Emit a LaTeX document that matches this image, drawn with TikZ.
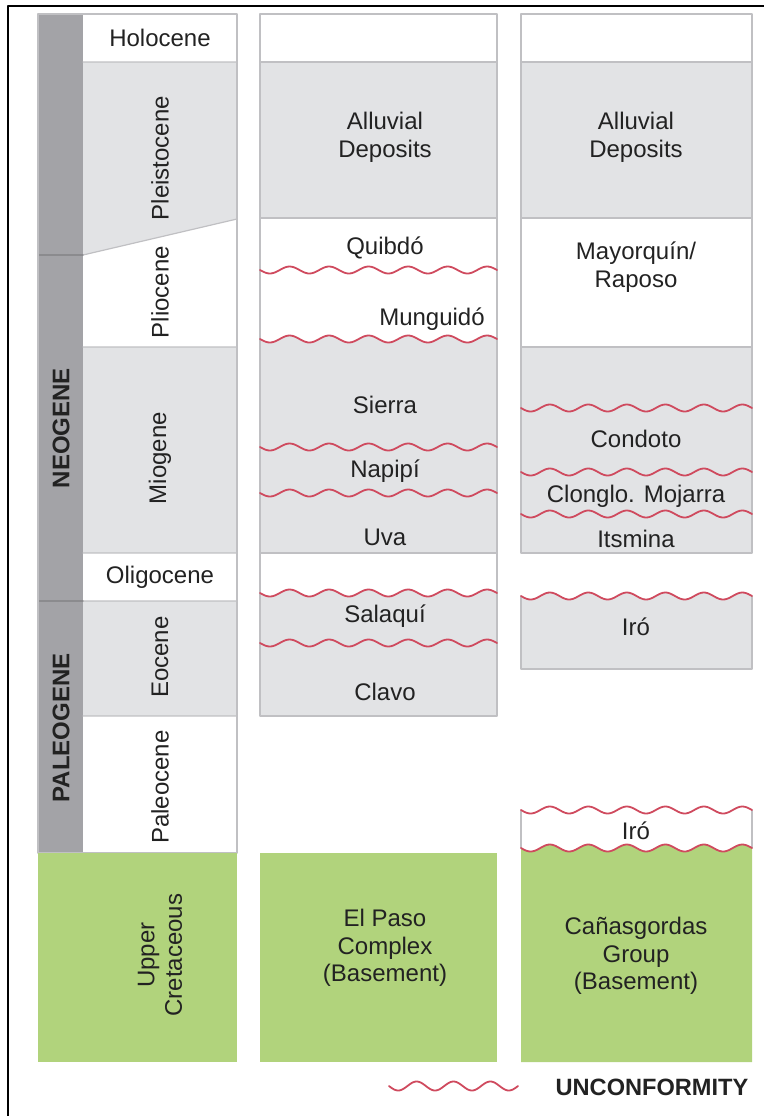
\documentclass[tikz,border=0pt]{standalone}
\usepackage{fontspec}
\setmainfont{Liberation Sans}
\definecolor{bargray}{HTML}{A3A3A7}
\definecolor{cellgray}{HTML}{E2E3E5}
\definecolor{edgegray}{HTML}{C0C0C3}
\definecolor{basegreen}{HTML}{B1D37C}
\definecolor{wavered}{HTML}{CF4A5E}
\definecolor{inkgray}{HTML}{222222}
\tikzset{
  cell/.style={fill=cellgray},
  edge/.style={draw=edgegray, line width=0.6pt},
  unconf/.style={draw=wavered, line width=0.9pt},
  lbl/.style={text=inkgray, align=center, inner sep=0pt, font=\fontsize{12}{13.8}\selectfont},
  era/.style={text=inkgray, inner sep=0pt, rotate=90, font=\fontsize{12}{14}\selectfont\bfseries},
}
% wavy unconformity: x1, x2, y, number of waves, amplitude
\newcommand{\wave}[5]{plot[domain=#1:#2, samples=120, smooth] (\x,{#3+#5*sin((\x-#1)/(#2-#1)*360*#4)})}
\begin{document}
\begin{tikzpicture}[x=0.5pt, y=-0.5pt, line join=round, line cap=round]
\useasboundingbox (0,0) rectangle (764,1116);
\draw[line width=1pt] (8,1116) -- (8,6) -- (764,6);

% time scale
\fill[bargray] (38,14) rectangle (83,853);
\fill[cell] (83,62) -- (237,62) -- (237,219) -- (83,255) -- cycle;
\fill[cell] (83,347) rectangle (237,553);
\fill[cell] (83,601) rectangle (237,716);
\draw[edge] (83,62) -- (237,62) (83,255) -- (237,219) (83,347) -- (237,347)
  (83,553) -- (237,553) (83,601) -- (237,601) (83,716) -- (237,716);
\draw[draw=bargray!85!black, line width=0.6pt] (38,255) -- (83,255) (38,601) -- (83,601);
\draw[edge] (38,14) rectangle (237,853);
\fill[basegreen] (38,853) rectangle (237,1062);

\node[era] (neogene) at (61,428) {NEOGENE};
\node[era] (paleogene) at (61,728) {PALEOGENE};
\node[lbl] (holocene) at (160,38) {Holocene};
\node[lbl, rotate=90] (pleistocene) at (160,158) {Pleistocene};
\node[lbl, rotate=90] (pliocene) at (160,292) {Pliocene};
\node[lbl, rotate=90] (miogene) at (160,458) {Miogene};
\node[lbl] (oligocene) at (160,577) {Oligocene};
\node[lbl, rotate=90] (eocene) at (160,657) {Eocene};
\node[lbl, rotate=90] (paleocene) at (160,787) {Paleocene};
\node[lbl, rotate=90] (cretaceous) at (160,955) {Upper\\Cretaceous};

% first section
\fill[cell] (260,62) rectangle (497,218);
\fill[cell] \wave{260}{497}{339}{6}{3.5} -- (497,553) -- (260,553) -- cycle;
\fill[cell] \wave{260}{497}{593}{6}{3.5} -- (497,716) -- (260,716) -- cycle;
\draw[edge] (260,14) rectangle (497,716);
\draw[edge] (260,62) -- (497,62) (260,218) -- (497,218) (260,553) -- (497,553);
\foreach \yy in {270,339,447,493,593,643}
  \draw[unconf] \wave{260}{497}{\yy}{6}{3.5};
\fill[basegreen] (260,853) rectangle (497,1062);

\node[lbl] (alluvA) at (385,137) {Alluvial\\Deposits};
\node[lbl] (quibdo) at (385,248) {Quibdó};
\node[lbl] (munguido) at (432,319) {Munguidó};
\node[lbl] (sierra) at (385,405) {Sierra};
\node[lbl] (napipi) at (385,471) {Napipí};
\node[lbl] (uva) at (385,537) {Uva};
\node[lbl] (salaqui) at (385,616) {Salaquí};
\node[lbl] (clavo) at (385,692) {Clavo};
\node[lbl] (elpaso) at (385,948) {El Paso\\Complex\\(Basement)};

% second section
\fill[cell] (521,62) rectangle (752,218);
\draw[edge] (521,14) rectangle (752,347);
\draw[edge] (521,62) -- (752,62) (521,218) -- (752,218);
\fill[cell] (521,347) rectangle (752,553);
\draw[edge] (521,347) rectangle (752,553);
\fill[cell] \wave{521}{752}{596}{6}{3.5} -- (752,669) -- (521,669) -- cycle;
\draw[edge] (521,596) -- (521,669) -- (752,669) -- (752,596);
\draw[edge] (521,810) -- (521,848) (752,810) -- (752,848);
\fill[basegreen] \wave{521}{752}{848}{6}{3.5} -- (752,1062) -- (521,1062) -- cycle;
\foreach \yy in {408,472,514,596,810,848}
  \draw[unconf] \wave{521}{752}{\yy}{6}{3.5};

\node[lbl] (alluvB) at (636,137) {Alluvial\\Deposits};
\node[lbl] (mayorquin) at (636,267) {Mayorquín/\\Raposo};
\node[lbl] (condoto) at (636,439) {Condoto};
\node[lbl] (mojarra) at (636,496) {Clonglo. Mojarra};
\node[lbl] (itsmina) at (636,539) {Itsmina};
\node[lbl] (iroA) at (636,627) {Iró};
\node[lbl] (iroB) at (636,831) {Iró};
\node[lbl] (canasgordas) at (636,956) {Cañasgordas\\Group\\(Basement)};

% legend
\draw[unconf] \wave{389}{518}{1086}{3.5}{4.5};
\node[text=inkgray, inner sep=0pt, font=\fontsize{11.8}{14}\selectfont\bfseries] (legend) at (652,1087) {UNCONFORMITY};
\end{tikzpicture}
\end{document}
